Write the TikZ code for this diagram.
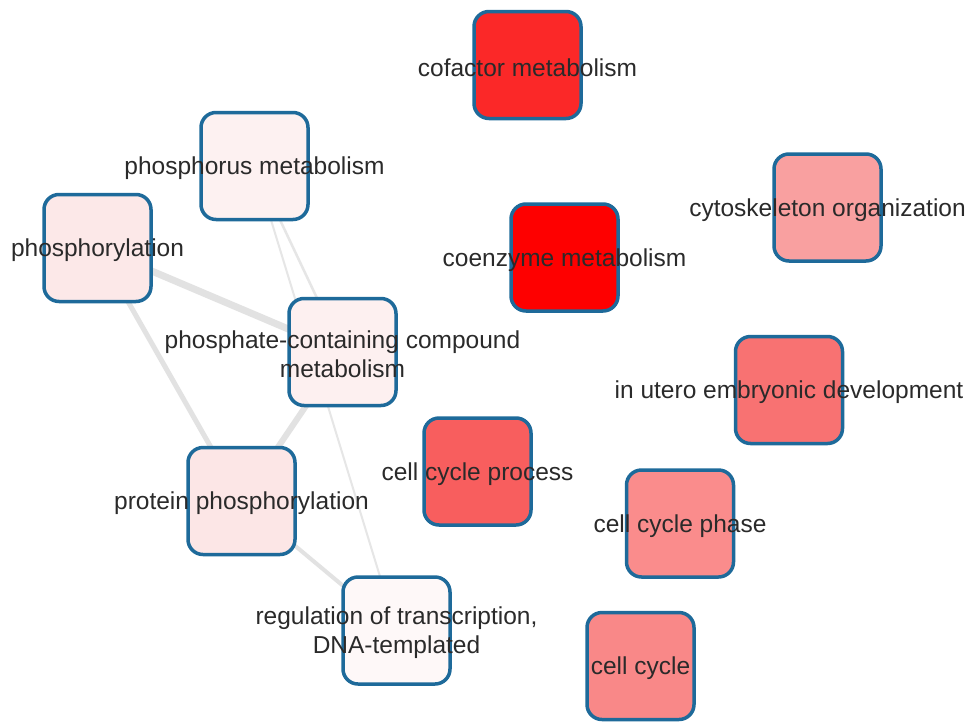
\documentclass[tikz,border=0pt]{standalone}
\usepackage{fontspec}
\setmainfont{Liberation Sans}
\pgfdeclarelayer{bottom}
\pgfdeclarelayer{background}
\pgfsetlayers{bottom,background,main}
\definecolor{bordc}{HTML}{1E6A9A}
\definecolor{edgec}{HTML}{E2E2E2}
\definecolor{edgelt}{HTML}{E6E6E6}
\definecolor{txtc}{HTML}{2A2A2A}
\definecolor{fcof}{HTML}{FB2828}
\definecolor{fcoe}{HTML}{FE0000}
\definecolor{fcyt}{HTML}{F9A0A0}
\definecolor{futr}{HTML}{F87272}
\definecolor{fccp}{HTML}{F85E5E}
\definecolor{fcph}{HTML}{FA8C8C}
\definecolor{fcc}{HTML}{F98888}
\definecolor{fphr}{HTML}{FDF1F1}
\definecolor{fpyl}{HTML}{FCE8E8}
\definecolor{fpte}{HTML}{FDF0F0}
\definecolor{fprp}{HTML}{FCE6E6}
\definecolor{freg}{HTML}{FEF8F8}
\tikzset{
  gobox/.style={draw=bordc, line width=3.5pt, rounded corners=15pt,
    minimum width=107pt, minimum height=107pt, inner sep=0pt},
  lbl/.style={text=txtc, font=\fontsize{24.5}{29}\selectfont, align=center, inner sep=0pt, yshift=-2.5pt},
  gedge/.style={draw=edgec, line cap=round},
}
\begin{document}
\begin{tikzpicture}[x=1pt,y=-1pt]
\useasboundingbox (0,0) rectangle (971,723);
\begin{pgfonlayer}{bottom}
\fill[white] (0,0) rectangle (971,723);
\end{pgfonlayer}
\node[gobox, fill=fcof, label={[lbl]center:cofactor metabolism}] (cof) at (527.5,65) {};
\node[gobox, fill=fphr, label={[lbl]center:phosphorus metabolism}] (phr) at (254.5,166) {};
\node[gobox, fill=fpyl, label={[lbl]center:phosphorylation}] (pyl) at (97.5,248) {};
\node[gobox, fill=fcoe, label={[lbl]center:coenzyme metabolism}] (coe) at (564.5,257.5) {};
\node[gobox, fill=fcyt, label={[lbl]center:cytoskeleton organization}] (cyt) at (827.5,207.5) {};
\node[gobox, fill=fpte, label={[lbl]center:phosphate-containing compound\\metabolism}] (pte) at (342.5,352) {};
\node[gobox, fill=futr, label={[lbl]center:in utero embryonic development}] (utr) at (789,390) {};
\node[gobox, fill=fccp, label={[lbl]center:cell cycle process}] (ccp) at (477.5,471.5) {};
\node[gobox, fill=fprp, label={[lbl]center:protein phosphorylation}] (prp) at (241.5,501) {};
\node[gobox, fill=fcph, label={[lbl]center:cell cycle phase}] (cph) at (680,523.5) {};
\node[gobox, fill=freg, label={[lbl]center:regulation of transcription,\\DNA-templated}] (reg) at (396.5,630.5) {};
\node[gobox, fill=fcc, label={[lbl]center:cell cycle}] (cc) at (640.5,666) {};
\begin{pgfonlayer}{background}
\draw[gedge, line width=7pt] (pyl.center) -- (pte.center);
\draw[gedge, line width=5pt] (pyl.center) -- (prp.center);
\draw[gedge, line width=6pt] (pte.center) -- (prp.center);
\draw[gedge, line width=4pt] (prp.center) -- (reg.center);
\draw[gedge, draw=edgelt, line width=2.5pt] (phr.center) -- (pte.center);
\draw[gedge, draw=edgelt, line width=2pt] (phr.center) -- (reg.center);
\end{pgfonlayer}
\end{tikzpicture}
\end{document}
